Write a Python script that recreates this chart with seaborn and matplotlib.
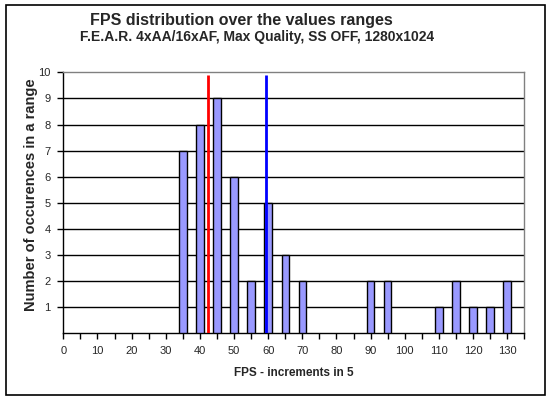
import matplotlib
matplotlib.use("Agg")
import matplotlib.pyplot as plt
import seaborn as sns
import pandas as pd
from matplotlib.patches import Rectangle

# Dados
fps = [35, 40, 45, 50, 55, 60, 65, 70, 90, 95, 110, 115, 120, 125, 130]
ocorrencias = [7, 8, 9, 6, 2, 5, 3, 2, 2, 2, 1, 2, 1, 1, 2]
media_min = 42.5   # linha vermelha
media_max = 59.4   # linha azul
x_ticks = list(range(0, 136, 5))
y_ticks = list(range(1, 11))

df = pd.DataFrame({"FPS": fps, "Ocorrencias": ocorrencias})

sns.set_style("white")
plt.rcParams["font.family"] = ["Liberation Sans", "DejaVu Sans"]

fig = plt.figure(figsize=(5.51, 4.0), dpi=100)
ax = fig.add_axes([0.1149, 0.167, 0.8366, 0.652])

sns.barplot(data=df, x="FPS", y="Ocorrencias", native_scale=True,
            width=0.44, color="#9999FF", saturation=1,
            edgecolor="black", linewidth=1, ax=ax, zorder=3)

# Linhas de referência
ax.vlines(media_min, 0, 9.9, color="#FF0000", linewidth=2, zorder=4)
ax.vlines(media_max, 0, 9.9, color="#0000FF", linewidth=2, zorder=4)

ax.set_xlim(0, 135)
ax.set_ylim(0, 10)
ax.set_xticks(x_ticks)
ax.set_xticklabels([str(v) if v % 10 == 0 else "" for v in x_ticks], fontsize=8)
ax.set_yticks(y_ticks)
ax.set_yticklabels([str(v) for v in y_ticks], fontsize=8)
ax.tick_params(axis="both", direction="out", length=4, width=1, color="black",
               bottom=True, left=True, pad=5)

for v in range(1, 10):
    ax.axhline(v, color="black", linewidth=1, zorder=1)

for s in ["left", "bottom"]:
    ax.spines[s].set_color("black")
    ax.spines[s].set_linewidth(1)
for s in ["top", "right"]:
    ax.spines[s].set_color("#808080")
    ax.spines[s].set_linewidth(1)

ax.set_xlabel("FPS - increments in 5", fontsize=8.5, fontweight="bold", labelpad=8)
ax.set_ylabel("Number of occurences in a range", fontsize=10.5, fontweight="bold")
ax.yaxis.set_label_coords(-0.054, 0.53)

fig.text(241 / 551, 1 - 20 / 400, "FPS distribution over the values ranges",
         ha="center", va="center", fontsize=11.5, fontweight="bold")
fig.text(257 / 551, 1 - 37 / 400, "F.E.A.R. 4xAA/16xAF, Max Quality, SS OFF, 1280x1024",
         ha="center", va="center", fontsize=10, fontweight="bold")

# Moldura do gráfico
fig.patches.append(Rectangle((5.5 / 551, 1 - 395 / 400), 539 / 551, 390 / 400,
                             transform=fig.transFigure, fill=False,
                             edgecolor="black", linewidth=1.2))

fig.savefig("out.png", dpi=100)
